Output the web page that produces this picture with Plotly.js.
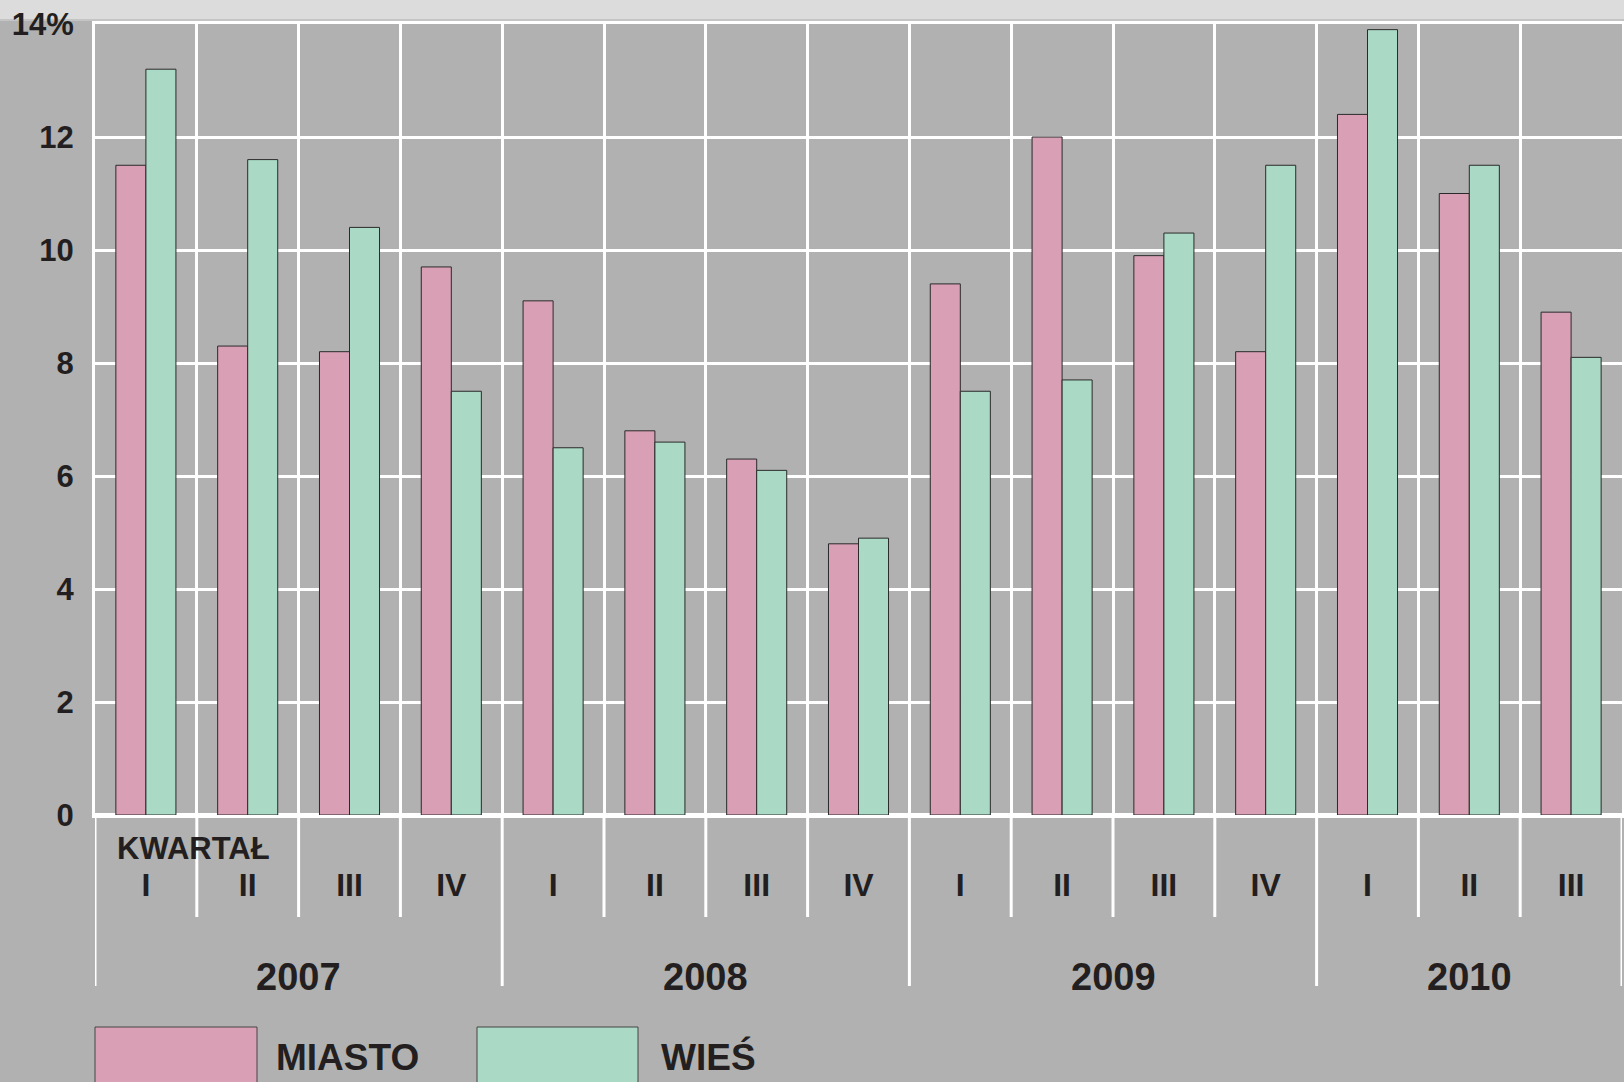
<!DOCTYPE html>
<html>
<head>
<meta charset="utf-8">
<script src="https://cdn.plot.ly/plotly-3.0.1.min.js"></script>
<style>
  html, body { margin: 0; padding: 0; background: #b1b1b1; }
  #chart { width: 1624px; height: 1082px; }
</style>
</head>
<body>
<div id="chart"></div>
<script>
// ---- data ----
const quarters = ["I", "II", "III", "IV", "I", "II", "III", "IV", "I", "II", "III", "IV", "I", "II", "III"];
const years = ["2007", "2007", "2007", "2007", "2008", "2008", "2008", "2008", "2009", "2009", "2009", "2009", "2010", "2010", "2010"];
const categories = quarters.map((q, i) => years[i] + " " + q);
const miasto = [11.5, 8.3, 8.2, 9.7, 9.1, 6.8, 6.3, 4.8, 9.4, 12.0, 9.9, 8.2, 12.4, 11.0, 8.9];
const wies = [13.2, 11.6, 10.4, 7.5, 6.5, 6.6, 6.1, 4.9, 7.5, 7.7, 10.3, 11.5, 13.9, 11.5, 8.1];
const yTickVals = [0, 2, 4, 6, 8, 10, 12, 14];
const yTickText = ["0", "2", "4", "6", "8", "10", "12", "14%"];
const seriesNames = ["MIASTO", "WIEŚ"];
const axisWord = "KWARTAŁ";

// ---- styles ----
const PINK = "#d9a0b5";
const GREEN = "#aad9c6";
const BG = "#b1b1b1";
const TXT = "#231f20";
const FONT = "'Liberation Sans', Arial, sans-serif";

const traces = [
  { type: "bar", x: categories, y: miasto, name: seriesNames[0],
    marker: { color: PINK, line: { color: "#2a2a2a", width: 1 } }, hoverinfo: "y" },
  { type: "bar", x: categories, y: wies, name: seriesNames[1],
    marker: { color: GREEN, line: { color: "#2a2a2a", width: 1 } }, hoverinfo: "y" }
];

const plotH = 1082 - 24 - 267;
const pyOf = (px) => -(px - 815) / plotH; // pixel row -> paper y

const shapes = [];
const annotations = [];

// top patterned strip
shapes.push({ type: "rect", xref: "paper", yref: "paper", x0: -0.07, x1: 1.01,
  y0: pyOf(19), y1: pyOf(-2), fillcolor: "#dcdcdc", line: { width: 0 }, layer: "below" });
shapes.push({ type: "line", xref: "paper", yref: "paper", x0: -0.07, x1: 1.01,
  y0: pyOf(20), y1: pyOf(20), line: { color: "#c4c4c4", width: 2 }, layer: "below" });

// boundary lines under the axis (short for quarters, long for years)
for (let i = 0; i <= categories.length; i++) {
  const isYear = i === 0 || i === categories.length || years[i] !== years[i - 1];
  shapes.push({ type: "line", xref: "x", yref: "paper", x0: i - 0.5, x1: i - 0.5,
    y0: 0, y1: pyOf(isYear ? 986 : 917), line: { color: "#ffffff", width: 3 } });
}

// year labels centred on their quarters
const uniqYears = [...new Set(years)];
uniqYears.forEach(yr => {
  const idx = years.map((y, i) => y === yr ? i : -1).filter(i => i >= 0);
  const c = (idx[0] + idx[idx.length - 1]) / 2;
  annotations.push({ xref: "x", yref: "paper", x: c, y: pyOf(977), text: yr,
    showarrow: false, xanchor: "center", yanchor: "middle",
    font: { family: FONT, size: 38, color: TXT, weight: "bold" } });
});

// KWARTAŁ label
annotations.push({ xref: "paper", yref: "paper", x: (193 - 95) / 1527, y: pyOf(849), text: axisWord,
  showarrow: false, xanchor: "center", yanchor: "middle",
  font: { family: FONT, size: 31, color: TXT, weight: "bold" } });

// custom legend
const legendBoxes = [[95, 257], [477, 638]];
const legendText = [274, 659];
[PINK, GREEN].forEach((col, k) => {
  shapes.push({ type: "rect", xref: "paper", yref: "paper",
    x0: (legendBoxes[k][0] - 95) / 1527, x1: (legendBoxes[k][1] - 95) / 1527,
    y0: pyOf(1095), y1: pyOf(1027), fillcolor: col, line: { color: "#444", width: 1 } });
  annotations.push({ xref: "paper", yref: "paper", x: (legendText[k] - 95) / 1527, y: pyOf(1057),
    text: seriesNames[k], showarrow: false, xanchor: "left", yanchor: "middle",
    font: { family: FONT, size: 37, color: TXT, weight: "bold" } });
});

const layout = {
  width: 1624, height: 1082,
  margin: { l: 95, r: 2, t: 24, b: 267, pad: 0 },
  paper_bgcolor: BG, plot_bgcolor: BG,
  showlegend: false,
  barmode: "group", bargap: 0.41, bargroupgap: 0,
  font: { family: FONT, color: TXT },
  xaxis: {
    type: "category", tickson: "boundaries", range: [-0.5, categories.length - 0.5],
    tickmode: "array", tickvals: categories, ticktext: quarters,
    showgrid: true, gridcolor: "#ffffff", gridwidth: 3,
    ticks: "", showline: true, linecolor: "#ffffff", linewidth: 3, mirror: true,
    tickfont: { family: FONT, size: 32, color: TXT, weight: "bold" },
    ticklabelstandoff: 40, fixedrange: true
  },
  yaxis: {
    range: [0, 14], tickmode: "array", tickvals: yTickVals, ticktext: yTickText,
    showgrid: true, gridcolor: "#ffffff", gridwidth: 3,
    zeroline: true, zerolinecolor: "#ffffff", zerolinewidth: 5,
    showline: true, linecolor: "#ffffff", linewidth: 3, mirror: true,
    ticks: "", tickfont: { family: FONT, size: 31, color: TXT, weight: "bold" },
    ticklabelstandoff: 12, fixedrange: true
  },
  shapes: shapes,
  annotations: annotations
};

Plotly.newPlot("chart", traces, layout, { displayModeBar: false, staticPlot: true });
</script>
</body>
</html>
